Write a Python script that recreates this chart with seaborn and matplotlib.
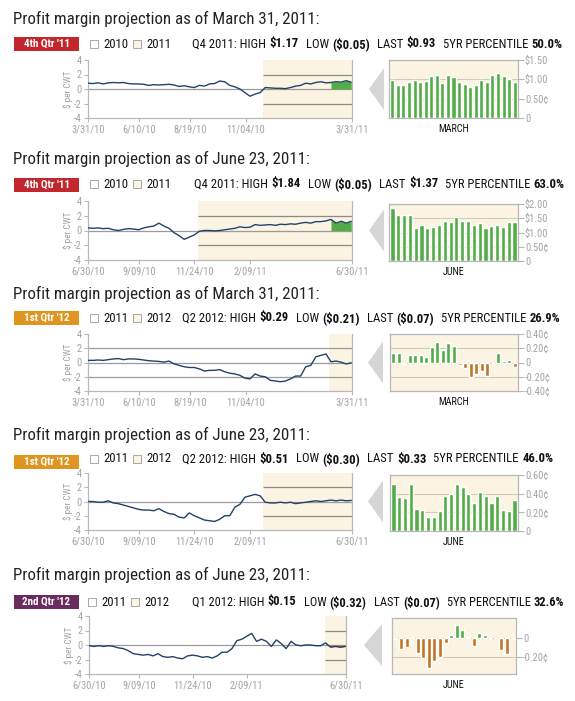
import numpy as np
import pandas as pd
import matplotlib
matplotlib.use("Agg")
import matplotlib.pyplot as plt
import seaborn as sns
from matplotlib.patches import Rectangle, Polygon

sns.set_theme(style="white")
plt.rcParams['font.family'] = ['Liberation Sans Narrow', 'DejaVu Sans Condensed', 'Roboto Condensed',
                               'Roboto', 'DejaVu Sans']

W, H = 575, 701

# ---- header text ----
titles = ["Profit margin projection as of March 31, 2011:",
          "Profit margin projection as of June 23, 2011:",
          "Profit margin projection as of March 31, 2011:",
          "Profit margin projection as of June 23, 2011:",
          "Profit margin projection as of June 23, 2011:"]
badges = ["4th Qtr '11", "4th Qtr '11", "1st Qtr '12", "1st Qtr '12", "2nd Qtr '12"]
legend_years = [("2010", "2011"), ("2010", "2011"), ("2011", "2012"), ("2011", "2012"), ("2011", "2012")]
contracts = ["Q4 2011", "Q4 2011", "Q2 2012", "Q2 2012", "Q1 2012"]
highs = ["$1.17", "$1.84", "$0.29", "$0.51", "$0.15"]
lows = ["($0.05)", "($0.05)", "($0.21)", "($0.30)", "($0.32)"]
lasts = ["$0.93", "$1.37", "($0.07)", "$0.33", "($0.07)"]
pctiles = ["50.0%", "63.0%", "26.9%", "46.0%", "32.6%"]
months = ["MARCH", "JUNE", "MARCH", "JUNE", "JUNE"]

# ---- left line charts (weekly readings, $ per CWT) ----
line_starts = ["2010-03-31", "2010-06-30", "2010-03-31", "2010-06-30", "2010-06-30"]
line_ends = ["2011-03-31", "2011-06-30", "2011-03-31", "2011-06-30", "2011-06-30"]
shade_starts = ["2010-11-28", "2010-11-29", "2011-02-27", "2011-02-27", "2011-05-31"]
fill_starts = ["2011-03-01", "2011-06-01", None, None, "2011-06-01"]

p1_line = [0.8, 0.75, 0.85, 0.7, 0.85, 0.9, 0.85, 0.9, 0.75, 0.7, 0.7, 0.65, 0.5, 0.6, 0.55, 0.6,
           0.65, 0.55, 0.35, 0.45, 0.3, 0.2, 0.5, 0.4, 0.7, 0.75, 1.1, 1.0, 0.5, 0.3, 0.0, -0.5,
           -1.0, -0.7, -0.5, 0.2, 0.15, 0.1, 0.1, 0.05, 0.2, 0.4, 0.5, 0.8, 0.7, 0.9, 1.0, 0.85,
           0.9, 1.0, 0.95, 1.15, 0.93]
p2_line = [0.35, 0.3, 0.35, 0.25, 0.3, 0.1, 0.0, 0.15, 0.25, 0.2, 0.1, 0.35, 0.5, 0.6, 1.0, 0.6,
           0.3, -0.3, -0.7, -1.2, -0.9, -0.6, -0.1, 0.0, 0.0, -0.05, 0.0, 0.1, 0.2, 0.3, 0.5, 0.4,
           0.45, 0.8, 0.7, 0.75, 0.8, 0.7, 0.85, 0.8, 0.9, 0.85, 1.0, 1.1, 1.0, 1.2, 1.2, 1.3,
           1.5, 1.0, 1.25, 1.0, 1.25]
p3_line = [0.3, 0.3, 0.35, 0.3, 0.4, 0.5, 0.55, 0.4, 0.5, 0.5, 0.45, 0.35, 0.25, 0.2, 0.15, 0.05,
           0.2, -0.2, -0.4, -0.6, -0.7, -0.7, -0.9, -1.2, -1.1, -1.1, -1.0, -1.3, -1.5, -1.6, -1.8,
           -2.2, -2.3, -1.6, -1.9, -2.0, -2.5, -2.6, -2.7, -2.6, -2.3, -1.9, -1.9, -0.6, -0.4, 0.8,
           1.0, 1.2, 0.1, 0.2, 0.05, -0.2, -0.05]
p4_line = [0.0, 0.0, -0.1, -0.1, 0.1, -0.2, -0.3, -0.5, -0.7, -0.9, -1.1, -1.2, -1.2, -1.3, -1.0,
           -1.4, -1.7, -1.8, -2.2, -2.3, -1.6, -2.0, -2.3, -2.6, -2.7, -2.8, -2.5, -2.0, -2.0, -0.8,
           -0.4, 0.6, 0.8, 1.0, 0.8, -0.1, -0.2, -0.2, -0.1, -0.2, -0.1, -0.3, -0.2, -0.1, 0.0,
           0.1, 0.0, 0.1, 0.2, 0.1, 0.2, 0.1, 0.15]
p5_line = [-0.1, -0.2, -0.1, -0.2, -0.1, -0.2, -0.4, -0.5, -0.8, -1.2, -1.3, -1.4, -1.3, -1.5, -1.2,
           -1.6, -1.7, -1.6, -1.8, -1.9, -1.5, -1.4, -1.5, -1.7, -1.6, -1.8, -1.5, -1.0, -1.0, -0.5,
           0.6, 0.8, 1.2, 1.6, 0.5, 0.8, 0.5, -0.2, 0.7, 0.2, -0.5, 0.5, 0.0, -0.1, 0.0, 0.0,
           -0.1, -0.1, 0.3, -0.3, -0.2, -0.3, -0.2]
lines = [p1_line, p2_line, p3_line, p4_line, p5_line]

tick_dates_a = ["2010-03-31", "2010-06-10", "2010-08-19", "2010-11-04", "2011-03-31"]
tick_labels_a = ["3/31/10", "6/10/10", "8/19/10", "11/04/10", "3/31/11"]
tick_dates_b = ["2010-06-30", "2010-09-09", "2010-11-24", "2011-02-09", "2011-06-30"]
tick_labels_b = ["6/30/10", "9/09/10", "11/24/10", "2/09/11", "6/30/11"]
y_ticks = [-4, -2, 0, 2, 4]

# ---- right bar charts (daily values for the month) ----
p1_bars = [0.97, 0.85, 0.85, 0.92, 0.97, 0.93, 0.95, 1.08, 1.10, 0.90, 1.10, 1.05, 0.92, 0.88,
           0.80, 0.85, 0.97, 0.93, 1.12, 1.17, 1.08, 1.02, 0.93]
p2_bars = [1.85, 1.60, 1.60, 1.63, 1.15, 1.27, 1.15, 1.20, 1.25, 1.40, 1.38, 1.53, 1.40, 1.42,
           1.28, 1.35, 1.15, 1.22, 1.25, 1.20, 1.37, 1.37]
p3_bars = [0.14, 0.14, -0.02, 0.10, 0.11, 0.11, 0.08, 0.22, 0.29, 0.17, 0.28, 0.23, -0.03, -0.08,
           -0.21, -0.16, -0.12, -0.19, 0.0, 0.13, 0.02, 0.04, -0.07]
p4_bars = [0.50, 0.36, 0.35, 0.50, 0.24, 0.22, 0.15, 0.15, 0.21, 0.37, 0.40, 0.50, 0.47, 0.40,
           0.30, 0.42, 0.37, 0.30, 0.38, 0.22, 0.21, 0.33]
p5_bars = [-0.01, -0.12, -0.10, 0.01, -0.16, -0.22, -0.32, -0.25, -0.20, -0.05, 0.03, 0.14, 0.09,
           0.01, -0.09, 0.06, 0.03, 0.0, 0.0, -0.13, -0.17, -0.01]
bars = [p1_bars, p2_bars, p3_bars, p4_bars, p5_bars]

bar_ticks = [[0, 0.5, 1.0, 1.5], [0, 0.5, 1.0, 1.5, 2.0], [-0.4, -0.2, 0, 0.2, 0.4],
             [0, 0.2, 0.4, 0.6], [-0.2, 0]]
bar_tick_labels = [["0", "0.50¢", "$1.00", "$1.50"], ["0", "0.50¢", "$1.00", "$1.50", "$2.00"],
                   ["-0.40¢", "-0.20¢", "0", "0.20¢", "0.40¢"], ["0", "0.20¢", "0.40¢", "0.60¢"],
                   ["-0.20¢", "0"]]
bar_ylims = [(0, 1.5), (0, 2.0), (-0.4, 0.4), (0, 0.6), (-0.39, 0.22)]

# ---- layout (pixels) ----
title_y = [18.5, 158.5, 293.5, 435, 575]
head_y = [44, 184, 318, 459, 602]
badge_y = [44, 184.5, 318, 462, 602]
stats_span = [(192, 561), (194, 561), (182, 561), (182, 554), (192, 561)]
line_box = [(88, 60, 352, 118), (88, 201, 352, 260), (88, 334, 352, 391),
            (88, 473, 352, 530), (89, 616, 346, 674)]
bar_box = [(389, 60, 518, 118), (389, 204, 518, 261), (390, 334, 518, 391),
           (390, 475, 518, 531), (392, 618, 516, 674)]
tri_x = [(369, 384), (369, 384), (368, 383), (368, 383), (364, 382)]

navy = "#21426b"
green = "#52ad46"
orange = "#c27526"
cream = "#fcf4e3"
badge_colors = ["#c1272d", "#c1272d", "#e0951f", "#e0951f", "#6a2b5f"]
lbl_gray = "#a3a3a3"
spine_gray = "#b8b8b8"

fig = plt.figure(figsize=(W / 100, H / 100), dpi=100)
fig.patch.set_facecolor("white")
renderer = fig.canvas.get_renderer()


def fy(y):
    return 1 - y / H


def add_ax(box):
    x0, y0, x1, y1 = box
    return fig.add_axes([x0 / W, 1 - y1 / H, (x1 - x0) / W, (y1 - y0) / H])


def text_w(s, size, bold=False):
    t = fig.text(0, 0, s, fontsize=size, fontweight="bold" if bold else "normal")
    w = t.get_window_extent(renderer=renderer).width
    t.remove()
    return w


def fit_size(s, target, bold=False):
    # font size that makes s about target px wide
    return 10 * target / text_w(s, 10, bold)


def stat_runs(i):
    return [(contracts[i] + ": HIGH", False, 3.5), (highs[i], True, 7), ("LOW", False, 3.5),
            (lows[i], True, 7), ("LAST", False, 3.5), (lasts[i], True, 7),
            ("5YR PERCENTILE", False, 3.5), (pctiles[i], True, 0)]


def runs_width(runs, size):
    return sum(text_w(s, size, b) + g for s, b, g in runs)


def text_runs(x, y, runs, size):
    for s, bold, gap in runs:
        t = fig.text(x / W, fy(y), s, fontsize=size, fontweight="bold" if bold else "normal",
                     va="center", ha="left", color="#111111")
        x += t.get_window_extent(renderer=renderer).width + gap


title_size = fit_size(titles[0], 305)
stat_size = 10 * (stats_span[0][1] - stats_span[0][0]) / runs_width(stat_runs(0), 10)
badge_size = fit_size(badges[0], 46, bold=True)
tick_size = fit_size("3/31/10", 33)
btick_size = fit_size("$1.50", 23)
month_size = fit_size("MARCH", 31)
ylab_size = fit_size("$ per CWT", 37)

for i in range(5):
    # title
    fig.text(13 / W, fy(title_y[i]), titles[i], fontsize=title_size, color="#222222", va="center")

    # badge
    by = badge_y[i]
    fig.add_artist(Rectangle((14 / W, fy(by + 7)), 65 / W, 14 / H, transform=fig.transFigure,
                             facecolor=badge_colors[i], edgecolor="none"))
    fig.text(46.5 / W, fy(by), badges[i], fontsize=badge_size, fontweight="bold", color="white",
             ha="center", va="center")

    # legend squares
    hy = head_y[i]
    lx = 90 if i < 4 else 88
    for k, fc in enumerate(["white", cream]):
        sx = lx + k * 43
        fig.add_artist(Rectangle((sx / W, fy(hy + 4)), 8 / W, 8 / H, transform=fig.transFigure,
                                 facecolor=fc, edgecolor="#9a9a9a", lw=0.6))
        fig.text((sx + 13) / W, fy(hy), legend_years[i][k], fontsize=stat_size, color="#111111",
                 va="center")

    # stats line, shrunk a little when a panel's figures run wider
    sx0, sx1 = stats_span[i]
    size_i = min(stat_size, 10 * (sx1 - sx0) / runs_width(stat_runs(i), 10))
    text_runs(sx0, hy, stat_runs(i), size_i)

    # left line chart
    ax = add_ax(line_box[i])
    start, end = pd.Timestamp(line_starts[i]), pd.Timestamp(line_ends[i])
    dates = pd.date_range(start, periods=len(lines[i]), freq="7D")
    df = pd.DataFrame({"date": dates, "val": lines[i]})
    shade = pd.Timestamp(shade_starts[i])
    ax.axvspan(shade, end, color=cream, lw=0, zorder=0)
    if i == 2:
        ax.hlines([-2, 2], start, end, color="#9a9a9a", lw=0.9, zorder=1)
    else:
        ax.hlines([-2, 2], shade, end, color="#8a8a8a", lw=0.9, zorder=1)
    ax.axhline(0, color="#9a9a9a", lw=0.9, zorder=1)
    if fill_starts[i] is not None:
        m = df["date"] >= pd.Timestamp(fill_starts[i])
        col = green if i < 2 else orange
        ax.fill_between(df["date"][m], 0, df["val"][m], color=col, lw=0, zorder=2)
    sns.lineplot(data=df, x="date", y="val", ax=ax, color=navy, lw=1.0, zorder=3)
    ax.set_xlim(start, end)
    ax.set_ylim(-4, 4)
    if line_starts[i] == "2010-03-31":
        ax.set_xticks(pd.to_datetime(tick_dates_a))
        ax.set_xticklabels(tick_labels_a)
    else:
        ax.set_xticks(pd.to_datetime(tick_dates_b))
        ax.set_xticklabels(tick_labels_b)
    ax.set_yticks(y_ticks)
    ax.set_yticklabels([str(v) for v in y_ticks])
    ax.set_xlabel("")
    ax.set_ylabel("$ per CWT", fontsize=ylab_size, color=lbl_gray, labelpad=1)
    ax.tick_params(axis="both", labelsize=tick_size, labelcolor=lbl_gray, color=spine_gray,
                   length=3, width=0.8, pad=1.5, bottom=True, left=True)
    ax.set_facecolor("white")
    for side in ["left", "bottom", "right"]:
        ax.spines[side].set_color(spine_gray)
        ax.spines[side].set_linewidth(0.9)
    ax.spines["top"].set_visible(False)

    # pointer triangle
    x0, y0, x1, y1 = line_box[i]
    cy = (y0 + y1) / 2
    tx0, tx1 = tri_x[i]
    fig.add_artist(Polygon([(tx0 / W, fy(cy)), (tx1 / W, fy(cy - 21)), (tx1 / W, fy(cy + 21))],
                           closed=True, transform=fig.transFigure, facecolor="#d6d6d6",
                           edgecolor="none"))

    # right bar chart
    bx = add_ax(bar_box[i])
    vals = np.array(bars[i])
    bdf = pd.DataFrame({"day": np.arange(len(vals)), "val": vals,
                        "sign": np.where(vals >= 0, "up", "down")})
    bx.set_facecolor(cream)
    for v in bar_ticks[i]:
        bx.axhline(v, color="#cfcac0", lw=0.8, zorder=0)
    sns.barplot(data=bdf, x="day", y="val", hue="sign", palette={"up": green, "down": orange},
                dodge=False, legend=False, width=0.72, saturation=1, ax=bx, zorder=2)
    bx.set_xlim(-0.6, len(vals) - 0.4)
    bx.set_ylim(*bar_ylims[i])
    bx.set_xticks([])
    bx.set_xlabel("")
    bx.set_ylabel("")
    bx.yaxis.tick_right()
    bx.set_yticks(bar_ticks[i])
    bx.set_yticklabels(bar_tick_labels[i])
    bx.tick_params(axis="y", labelsize=btick_size, labelcolor=lbl_gray, color=spine_gray,
                   length=4, width=0.8, pad=1, right=True)
    for side in bx.spines:
        bx.spines[side].set_color(spine_gray)
        bx.spines[side].set_linewidth(0.9)
    bbx0, bby0, bbx1, bby1 = bar_box[i]
    fig.text((bbx0 + bbx1) / 2 / W, fy(bby1 + 11), months[i], fontsize=month_size,
             color="#111111", ha="center", va="center")

fig.savefig("out.png", dpi=100, facecolor="white")
